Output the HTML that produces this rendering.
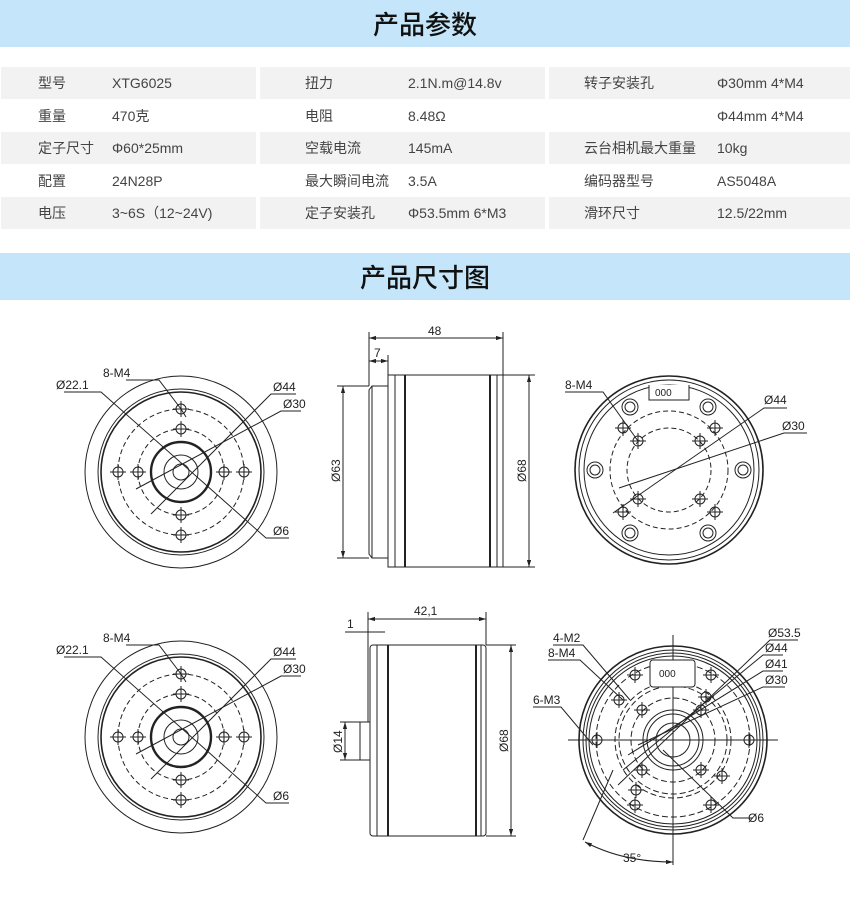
<!DOCTYPE html>
<html><head><meta charset="utf-8"><style>
body{margin:0;width:850px;height:907px;background:#fff;font-family:"Liberation Sans","Noto Sans CJK SC",sans-serif;position:relative;overflow:hidden}
.band{position:absolute;left:0;width:850px;height:47px;background:#c5e6fa;text-align:center;font-size:26px;line-height:47px;color:#111;font-family:"Noto Sans CJK SC",sans-serif;font-weight:500}
.row{position:absolute;left:0;width:850px;height:32px}
.c{position:absolute;top:0;height:32px}
.g .c{background:#f2f2f2}
.t{position:absolute;font-size:14px;line-height:32px;color:#444;font-family:"Liberation Sans","Noto Sans CJK SC",sans-serif;white-space:nowrap}
svg{position:absolute;left:0;top:0}
</style></head><body>
<div class="band" style="top:0">产品参数</div>
<div class="band" style="top:253px">产品尺寸图</div>

<div class="row g" style="top:67px"><div class="c" style="left:1px;width:255px"></div><div class="c" style="left:260px;width:285px"></div><div class="c" style="left:549px;width:301px"></div>
<span class="t" style="left:38px">型号</span><span class="t" style="left:112px">XTG6025</span><span class="t" style="left:305px">扭力</span><span class="t" style="left:408px">2.1N.m@14.8v</span><span class="t" style="left:584px">转子安装孔</span><span class="t" style="left:717px">Φ30mm 4*M4</span></div>
<div class="row" style="top:100px"><span class="t" style="left:38px">重量</span><span class="t" style="left:112px">470克</span><span class="t" style="left:305px">电阻</span><span class="t" style="left:408px">8.48Ω</span><span class="t" style="left:717px">Φ44mm 4*M4</span></div>
<div class="row g" style="top:132px"><div class="c" style="left:1px;width:255px"></div><div class="c" style="left:260px;width:285px"></div><div class="c" style="left:549px;width:301px"></div>
<span class="t" style="left:38px">定子尺寸</span><span class="t" style="left:112px">Φ60*25mm</span><span class="t" style="left:305px">空载电流</span><span class="t" style="left:408px">145mA</span><span class="t" style="left:584px">云台相机最大重量</span><span class="t" style="left:717px">10kg</span></div>
<div class="row" style="top:165px"><span class="t" style="left:38px">配置</span><span class="t" style="left:112px">24N28P</span><span class="t" style="left:305px">最大瞬间电流</span><span class="t" style="left:408px">3.5A</span><span class="t" style="left:584px">编码器型号</span><span class="t" style="left:717px">AS5048A</span></div>
<div class="row g" style="top:197px"><div class="c" style="left:1px;width:255px"></div><div class="c" style="left:260px;width:285px"></div><div class="c" style="left:549px;width:301px"></div>
<span class="t" style="left:38px">电压</span><span class="t" style="left:112px">3~6S（12~24V)</span><span class="t" style="left:305px">定子安装孔</span><span class="t" style="left:408px">Φ53.5mm 6*M3</span><span class="t" style="left:584px">滑环尺寸</span><span class="t" style="left:717px">12.5/22mm</span></div>

<svg width="850" height="907" viewBox="0 0 850 907" fill="none" stroke="#222" stroke-width="1" font-family="Liberation Sans, sans-serif" font-size="12">
<defs>
<marker id="a" viewBox="0 0 10 10" refX="10" refY="5" markerWidth="7" markerHeight="7" orient="auto-start-reverse"><path d="M0,2 L10,5 L0,8 z" fill="#222" stroke="none"/></marker>
<g id="hole"><circle r="5"/><line x1="-8" y1="0" x2="8" y2="0"/><line x1="0" y1="-8" x2="0" y2="8"/></g>
<g id="front">
<circle r="96"/><circle r="83"/><circle r="80" stroke-width="1.6"/>
<circle r="63" stroke-dasharray="5,3"/><circle r="43" stroke-dasharray="5,3"/>
<circle r="30" stroke-width="2.4"/><circle r="17"/><circle r="8"/>
<use href="#hole" x="63"/><use href="#hole" x="-63"/><use href="#hole" x="43"/><use href="#hole" x="-43"/>
<use href="#hole" y="63"/><use href="#hole" y="-63"/><use href="#hole" y="43"/><use href="#hole" y="-43"/>
<polyline points="-117,-80 -80,-80 85,66 108,66"/>
<polyline points="-55,-92 -22,-92 0,-63 5,-55"/>
<polyline points="115,-78 90,-78 -30,42"/>
<polyline points="120,-61 100,-61 -45,17"/>
<g fill="#222" stroke="none"><text x="-125" y="-83">Ø22.1</text><text x="-78" y="-95">8-M4</text><text x="92" y="-81">Ø44</text><text x="102" y="-64">Ø30</text><text x="92" y="63">Ø6</text></g>
</g>
</defs>
<use href="#front" x="181" y="472"/>
<use href="#front" x="181" y="737"/>

<!-- side view 1 -->
<g>
<rect x="388" y="375" width="115" height="192"/>
<line x1="395" y1="375" x2="395" y2="567"/><line x1="405" y1="375" x2="405" y2="567" stroke-width="2"/>
<line x1="490" y1="375" x2="490" y2="567" stroke-width="2"/><line x1="497" y1="375" x2="497" y2="567"/>
<polyline points="388,386 372,386 369,390 369,554 372,558 388,558"/>
<line x1="372" y1="386" x2="372" y2="558"/>
<line x1="369" y1="332" x2="369" y2="386"/><line x1="503" y1="332" x2="503" y2="375"/>
<line x1="369" y1="338" x2="503" y2="338" marker-start="url(#a)" marker-end="url(#a)"/><text x="428" y="335" fill="#222" stroke="none">48</text>
<line x1="388" y1="355" x2="388" y2="375"/><line x1="369" y1="361" x2="388" y2="361" marker-start="url(#a)" marker-end="url(#a)"/><text x="374" y="357" fill="#222" stroke="none">7</text>
<line x1="337" y1="386" x2="369" y2="386"/><line x1="337" y1="558" x2="369" y2="558"/><line x1="343" y1="386" x2="343" y2="558" marker-start="url(#a)" marker-end="url(#a)"/>
<text transform="translate(340,482) rotate(-90)" fill="#222" stroke="none">Ø63</text>
<line x1="503" y1="375" x2="535" y2="375"/><line x1="503" y1="567" x2="535" y2="567"/><line x1="529" y1="375" x2="529" y2="567" marker-start="url(#a)" marker-end="url(#a)"/>
<text transform="translate(526,482) rotate(-90)" fill="#222" stroke="none">Ø68</text>
</g>

<!-- side view 2 -->
<g>
<rect x="370" y="645" width="116" height="191" rx="3"/>
<line x1="377" y1="645" x2="377" y2="836"/><line x1="388" y1="645" x2="388" y2="836" stroke-width="2"/>
<line x1="476" y1="645" x2="476" y2="836" stroke-width="2"/><line x1="481" y1="645" x2="481" y2="836"/>
<rect x="360" y="722" width="10" height="38"/>
<line x1="368" y1="612" x2="368" y2="722"/><line x1="486" y1="612" x2="486" y2="645"/>
<line x1="368" y1="619" x2="486" y2="619" marker-start="url(#a)" marker-end="url(#a)"/><text x="414" y="615" fill="#222" stroke="none">42,1</text>
<line x1="345" y1="632" x2="385" y2="632"/><text x="347" y="628" fill="#222" stroke="none">1</text>
<line x1="340" y1="722" x2="360" y2="722"/><line x1="340" y1="760" x2="360" y2="760"/><line x1="345" y1="722" x2="345" y2="760" marker-start="url(#a)" marker-end="url(#a)"/>
<text transform="translate(342,753) rotate(-90)" fill="#222" stroke="none">Ø14</text>
<line x1="486" y1="645" x2="516" y2="645"/><line x1="486" y1="836" x2="516" y2="836"/><line x1="511" y1="645" x2="511" y2="836" marker-start="url(#a)" marker-end="url(#a)"/>
<text transform="translate(508,752) rotate(-90)" fill="#222" stroke="none">Ø68</text>
</g>

<!-- top right rear -->
<g transform="translate(669,470)">
<circle r="94" stroke-width="1.6"/><circle r="90"/><circle r="85"/>
<path d="M-20,-85 L-20,-70 L20,-70 L20,-85" fill="#fff"/>
<g fill="#222" stroke="none" font-size="10"><text x="-14" y="-74">000</text></g>
<circle r="59" stroke-dasharray="5,3"/><circle r="42" stroke-dasharray="5,3"/>
<g><circle cx="-74" cy="0" r="8"/><circle cx="-74" cy="0" r="5"/><circle cx="74" cy="0" r="8"/><circle cx="74" cy="0" r="5"/>
<circle cx="-39" cy="-63" r="8"/><circle cx="-39" cy="-63" r="5"/><circle cx="39" cy="-63" r="8"/><circle cx="39" cy="-63" r="5"/>
<circle cx="-39" cy="63" r="8"/><circle cx="-39" cy="63" r="5"/><circle cx="39" cy="63" r="8"/><circle cx="39" cy="63" r="5"/></g>
<use href="#hole" x="-46" y="-42"/><use href="#hole" x="46" y="-42"/><use href="#hole" x="-46" y="42"/><use href="#hole" x="46" y="42"/>
<use href="#hole" x="-31" y="-29"/><use href="#hole" x="31" y="-29"/><use href="#hole" x="-31" y="29"/><use href="#hole" x="31" y="29"/>
<polyline points="-104,-78 -66,-78 -31,-29"/>
<polyline points="118,-62 95,-62 -56,43"/>
<polyline points="138,-37 115,-37 -50,18"/>
<g fill="#222" stroke="none"><text x="-104" y="-81">8-M4</text><text x="95" y="-66">Ø44</text><text x="113" y="-40">Ø30</text></g>
</g>

<!-- bottom right -->
<g transform="translate(673,740)">
<circle r="94" stroke-width="1.6"/><circle r="90"/><circle r="87"/><circle r="84"/>
<circle r="77" stroke-dasharray="6,3"/><circle r="58" stroke-dasharray="6,3"/><circle r="54" stroke-dasharray="6,3"/><circle r="42" stroke-dasharray="6,3"/>
<circle r="30"/><circle r="26"/><circle r="17"/>
<line x1="-105" y1="0" x2="105" y2="0"/><line x1="0" y1="-105" x2="0" y2="125"/>
<rect x="-23" y="-80" width="45" height="27" rx="3" fill="#fff"/>
<g fill="#222" stroke="none" font-size="10"><text x="-14" y="-63">000</text></g>
<use href="#hole" x="-76" y="0"/><use href="#hole" x="76" y="0"/>
<use href="#hole" x="-38" y="-65"/><use href="#hole" x="38" y="-65"/><use href="#hole" x="-38" y="65"/><use href="#hole" x="38" y="65"/>
<use href="#hole" x="-54" y="-40"/><use href="#hole" x="33" y="-43"/><use href="#hole" x="-31" y="-30"/><use href="#hole" x="28" y="-30"/>
<use href="#hole" x="-31" y="30"/><use href="#hole" x="28" y="30"/><use href="#hole" x="-37" y="50"/><use href="#hole" x="49" y="36"/>
<polyline points="-120,-95 -90,-95 -43,-40"/>
<polyline points="-125,-80 -93,-80 -50,-40"/>
<polyline points="-140,-33 -112,-33 -80,5"/>
<polyline points="125,-100 97,-100 -55,45"/>
<polyline points="110,-85 90,-85 -50,30"/>
<polyline points="110,-69 90,-69 -45,15"/>
<polyline points="112,-53 90,-53 -35,5"/>
<polyline points="80,78 60,78 -10,10"/>
<line x1="-60" y1="30" x2="-90" y2="100"/>
<path d="M-88,102 Q-50,122 0,122" marker-start="url(#a)" marker-end="url(#a)"/>
<g fill="#222" stroke="none"><text x="-120" y="-98">4-M2</text><text x="-125" y="-83">8-M4</text><text x="-140" y="-36">6-M3</text>
<text x="95" y="-103">Ø53.5</text><text x="92" y="-88">Ø44</text><text x="92" y="-72">Ø41</text><text x="92" y="-56">Ø30</text><text x="75" y="82">Ø6</text><text x="-50" y="122">35°</text></g>
</g>
</svg>
</body></html>
